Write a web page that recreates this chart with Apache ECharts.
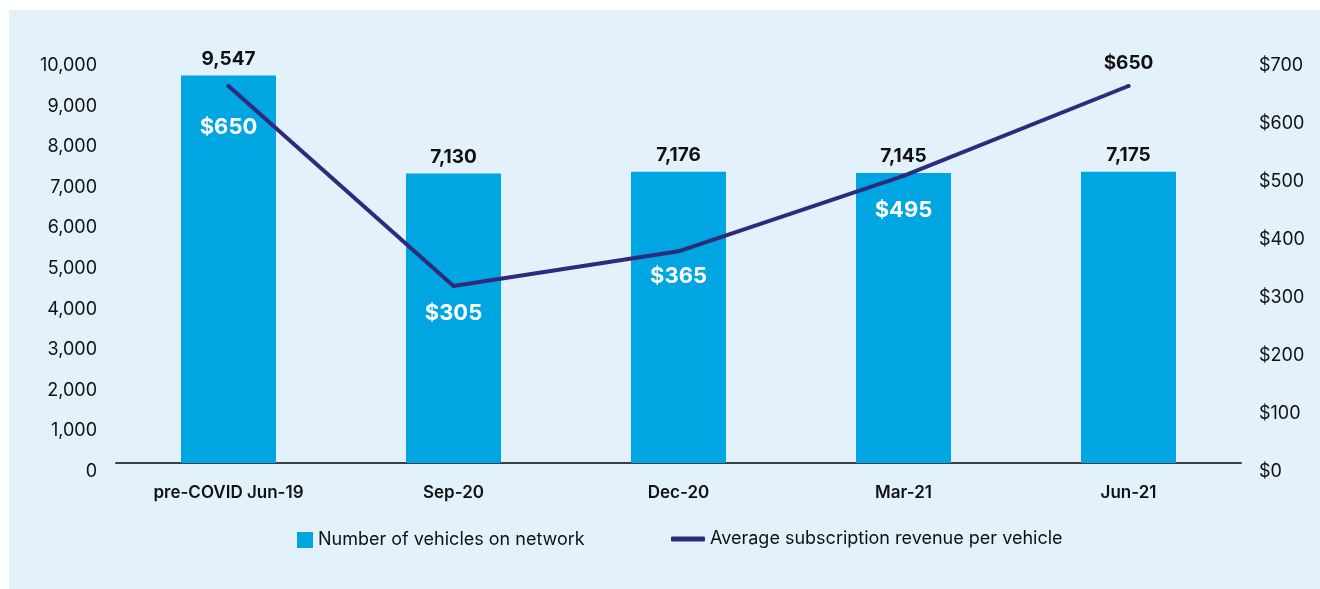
<!DOCTYPE html>
<html>
<head>
<meta charset="utf-8">
<script src="https://cdn.jsdelivr.net/npm/echarts@6/dist/echarts.min.js"></script>
<style>
  html, body { margin: 0; padding: 0; background: #ffffff; }
  #chart { position: absolute; left: 9px; top: 10px; width: 1311px; height: 579px; background: #e3f1fb; }
</style>
</head>
<body>
<div id="chart"></div>
<script>
const categories = ["pre-COVID Jun-19", "Sep-20", "Dec-20", "Mar-21", "Jun-21"];
const vehicles = [9547, 7130, 7176, 7145, 7175];
const revenue = [650, 305, 365, 495, 650];
const vehicleTicks = [0, 10000, 1000];
const revenueTicks = [0, 700, 100];

const FONT = "Inter";
const BAR_COLOR = "#00a6e1";
const LINE_COLOR = "#2e2a7c";

// where each revenue label sits relative to its point
const revenueLabelPlacement = [
  { offset: [0, 41], color: "#ffffff", fontSize: 22 },
  { offset: [0, 27], color: "#ffffff", fontSize: 22 },
  { offset: [0, 25], color: "#ffffff", fontSize: 22 },
  { offset: [0, 34], color: "#ffffff", fontSize: 22 },
  { offset: [0, -23], color: "#111111", fontSize: 19 }
];

const chart = echarts.init(document.getElementById("chart"));

chart.setOption({
  backgroundColor: "#e3f1fb",
  textStyle: { fontFamily: FONT },
  animation: false,
  grid: { left: 107, right: 79, top: 47, bottom: 126 },
  legend: [
    {
      data: ["Number of vehicles on network"],
      left: 283,
      top: 516,
      itemWidth: 16,
      itemHeight: 16,
      icon: "rect",
      textStyle: { fontFamily: FONT, fontSize: 18, color: "#111111" }
    },
    {
      data: ["Average subscription revenue per vehicle"],
      left: 657,
      top: 515,
      itemWidth: 34,
      itemHeight: 5,
      icon: "roundRect",
      textStyle: { fontFamily: FONT, fontSize: 18, color: "#111111" }
    }
  ],
  xAxis: {
    type: "category",
    data: categories,
    axisLine: { lineStyle: { color: "#3b3f45", width: 2 } },
    axisTick: { show: false },
    axisLabel: { color: "#111111", fontSize: 17, fontWeight: 600, margin: 21, fontFamily: FONT }
  },
  yAxis: [
    {
      type: "value",
      min: vehicleTicks[0],
      max: vehicleTicks[1],
      interval: vehicleTicks[2],
      splitLine: { show: false },
      axisLine: { show: false },
      axisTick: { show: false },
      axisLabel: {
        color: "#111111",
        fontSize: 18,
        margin: 19,
        verticalAlign: "top",
        lineHeight: 17,
        fontFamily: FONT,
        formatter: (v) => v.toLocaleString("en-US")
      }
    },
    {
      type: "value",
      min: revenueTicks[0],
      max: revenueTicks[1],
      interval: revenueTicks[2],
      splitLine: { show: false },
      axisLine: { show: false },
      axisTick: { show: false },
      axisLabel: {
        color: "#111111",
        fontSize: 18,
        margin: 18,
        verticalAlign: "top",
        lineHeight: 17,
        fontFamily: FONT,
        formatter: (v) => "$" + v
      }
    }
  ],
  series: [
    {
      name: "Number of vehicles on network",
      type: "bar",
      data: vehicles,
      barWidth: 95,
      itemStyle: { color: BAR_COLOR },
      label: {
        show: true,
        position: "top",
        distance: 7,
        color: "#111111",
        fontSize: 19,
        fontWeight: "bold",
        fontFamily: FONT,
        formatter: (p) => p.value.toLocaleString("en-US")
      }
    },
    {
      name: "Average subscription revenue per vehicle",
      type: "line",
      yAxisIndex: 1,
      data: revenue.map((v, i) => ({
        value: v,
        label: {
          position: "inside",
          offset: revenueLabelPlacement[i].offset,
          color: revenueLabelPlacement[i].color,
          fontSize: revenueLabelPlacement[i].fontSize
        }
      })),
      symbol: "circle",
      symbolSize: 4,
      itemStyle: { color: LINE_COLOR },
      lineStyle: { color: LINE_COLOR, width: 4, cap: "round", join: "round" },
      label: {
        show: true,
        fontWeight: "bold",
        fontFamily: FONT,
        formatter: (p) => "$" + p.value
      }
    }
  ]
});
</script>
</body>
</html>
